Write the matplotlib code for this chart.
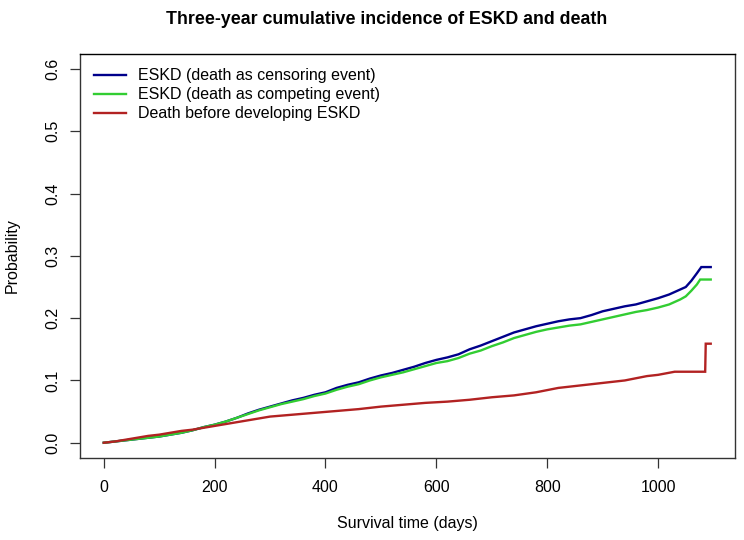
import matplotlib
matplotlib.use("Agg")
import matplotlib.pyplot as plt

plt.rcParams['font.family'] = ['Liberation Sans', 'DejaVu Sans']

# ESKD (death as censoring event)
days_cens = [0, 20, 40, 60, 80, 100, 120, 140, 160, 180, 200, 220, 240, 260, 280, 300,
             320, 340, 360, 380, 400, 420, 440, 460, 480, 500, 520, 540, 560, 580, 600,
             620, 640, 660, 680, 700, 720, 740, 760, 780, 800, 820, 840, 860, 880, 900,
             920, 940, 960, 980, 1000, 1020, 1040, 1050, 1060, 1070, 1078, 1095]
prob_cens = [0, 0.002, 0.004, 0.006, 0.008, 0.010, 0.013, 0.016, 0.020, 0.025, 0.029, 0.034,
             0.040, 0.047, 0.053, 0.058, 0.063, 0.068, 0.072, 0.077, 0.081, 0.088, 0.093,
             0.097, 0.103, 0.108, 0.112, 0.117, 0.122, 0.128, 0.133, 0.137, 0.142, 0.150,
             0.156, 0.163, 0.170, 0.177, 0.182, 0.187, 0.191, 0.195, 0.198, 0.200, 0.205,
             0.211, 0.215, 0.219, 0.222, 0.227, 0.232, 0.238, 0.246, 0.250, 0.260, 0.272,
             0.282, 0.282]

# ESKD (death as competing event)
days_comp = [0, 20, 40, 60, 80, 100, 120, 140, 160, 180, 200, 220, 240, 260, 280, 300,
             320, 340, 360, 380, 400, 420, 440, 460, 480, 500, 520, 540, 560, 580, 600,
             620, 640, 660, 680, 700, 720, 740, 760, 780, 800, 820, 840, 860, 880, 900,
             920, 940, 960, 980, 1000, 1020, 1040, 1050, 1060, 1070, 1076, 1095]
prob_comp = [0, 0.002, 0.004, 0.006, 0.008, 0.010, 0.013, 0.016, 0.020, 0.025, 0.029, 0.034,
             0.040, 0.046, 0.052, 0.057, 0.062, 0.066, 0.070, 0.075, 0.079, 0.085, 0.090,
             0.094, 0.100, 0.105, 0.109, 0.113, 0.118, 0.123, 0.128, 0.131, 0.136, 0.143,
             0.148, 0.155, 0.161, 0.168, 0.173, 0.178, 0.182, 0.185, 0.188, 0.190, 0.194,
             0.198, 0.202, 0.206, 0.210, 0.213, 0.217, 0.222, 0.230, 0.235, 0.244, 0.254,
             0.262, 0.262]

# Death before developing ESKD
days_death = [0, 20, 40, 60, 80, 100, 120, 140, 160, 180, 200, 220, 240, 260, 280, 300,
              340, 380, 420, 460, 500, 540, 580, 620, 660, 700, 740, 780, 820, 860, 900,
              940, 980, 1000, 1030, 1085, 1086, 1095]
prob_death = [0, 0.002, 0.005, 0.008, 0.011, 0.013, 0.016, 0.019, 0.021, 0.024, 0.027, 0.030,
              0.033, 0.036, 0.039, 0.042, 0.045, 0.048, 0.051, 0.054, 0.058, 0.061, 0.064,
              0.066, 0.069, 0.073, 0.076, 0.081, 0.088, 0.092, 0.096, 0.100, 0.107, 0.109,
              0.114, 0.114, 0.159, 0.159]

series_labels = ["ESKD (death as censoring event)",
                 "ESKD (death as competing event)",
                 "Death before developing ESKD"]
series_colors = ["#00008B", "#32CD32", "#B22222"]

x_ticks = [0, 200, 400, 600, 800, 1000]
y_ticks = [0.0, 0.1, 0.2, 0.3, 0.4, 0.5, 0.6]

fig = plt.figure(figsize=(7.44, 5.40), dpi=100)
ax = fig.add_axes([79.5 / 744, 1 - 457.7 / 540, (735 - 79.5) / 744, (457.7 - 54) / 540])

for d, p, lab, col in zip([days_cens, days_comp, days_death],
                          [prob_cens, prob_comp, prob_death],
                          series_labels, series_colors):
    ax.plot(d, p, color=col, lw=1.7, label=lab, solid_joinstyle='miter')

ax.set_xlim(-43.8, 1138.8)
ax.set_ylim(-0.024, 0.624)
ax.set_xticks(x_ticks)
ax.set_xticklabels([str(t) for t in x_ticks])
ax.set_yticks(y_ticks)
ax.set_yticklabels([f"{t:.1f}" for t in y_ticks], rotation=90, va='center')
ax.tick_params(axis='both', length=7, width=0.9, color='#333333', labelsize=11.5)
ax.tick_params(axis='x', pad=9)
ax.tick_params(axis='y', pad=7)
for s in ax.spines.values():
    s.set_color('#333333')
    s.set_linewidth(1.0)
ax.spines['top'].set_color('black')

ax.set_xlabel("Survival time (days)", fontsize=11.5)
ax.set_ylabel("Probability", fontsize=11.5)
ax.xaxis.set_label_coords(0.5, -(516 - 457.7) / (457.7 - 54))
ax.yaxis.set_label_coords(-(79.5 - 20) / (735 - 79.5), 0.5)

fig.text(0.5 + (387 - 372) / 744, 1 - 19 / 540,
         "Three-year cumulative incidence of ESKD and death",
         ha='center', va='center', fontsize=12.8, fontweight='bold')

leg = ax.legend(loc='upper left', frameon=False, fontsize=11.5, handlelength=2.0,
                handletextpad=0.75, labelspacing=0.25, borderaxespad=0.5,
                bbox_to_anchor=(0.0, 1.0))

fig.savefig("out.png", dpi=100)
